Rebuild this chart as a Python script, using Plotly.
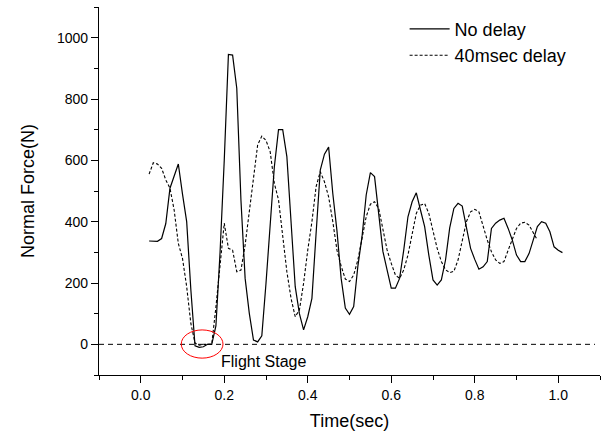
import plotly.graph_objects as go

time_no_delay = [0.02, 0.03, 0.04, 0.05, 0.06, 0.07, 0.08, 0.09, 0.10, 0.11,
                 0.12, 0.13, 0.14, 0.15, 0.16, 0.17, 0.18, 0.19, 0.20, 0.21,
                 0.22, 0.23, 0.24, 0.25, 0.26, 0.27, 0.28, 0.29, 0.30, 0.31,
                 0.32, 0.33, 0.34, 0.35, 0.36, 0.37, 0.38, 0.39, 0.40, 0.41,
                 0.42, 0.43, 0.44, 0.45, 0.46, 0.47, 0.48, 0.49, 0.50, 0.51,
                 0.52, 0.53, 0.54, 0.55, 0.56, 0.57, 0.58, 0.59, 0.60, 0.61,
                 0.62, 0.63, 0.64, 0.65, 0.66, 0.67, 0.68, 0.69, 0.70, 0.71,
                 0.72, 0.73, 0.74, 0.75, 0.76, 0.77, 0.78, 0.79, 0.80, 0.81,
                 0.82, 0.83, 0.84, 0.85, 0.86, 0.87, 0.88, 0.89, 0.90, 0.91,
                 0.92, 0.93, 0.94, 0.95, 0.96, 0.97, 0.98, 0.99, 1.00, 1.01]
force_no_delay = [337, 336, 336, 345, 394, 509, 550, 588, 490, 400,
                  178, -5, -10, -8, 0, 0, 60, 300, 600, 945,
                  943, 835, 470, 215, 101, 14, 8, 28, 199, 395,
                  579, 700, 700, 612, 387, 188, 100, 47, 90, 150,
                  362, 568, 620, 643, 492, 370, 215, 118, 98, 123,
                  254, 351, 487, 560, 547, 416, 303, 243, 183, 183,
                  215, 308, 416, 465, 494, 438, 384, 291, 210, 193,
                  210, 275, 380, 443, 460, 451, 384, 313, 277, 245,
                  253, 270, 378, 395, 405, 411, 378, 340, 291, 270,
                  270, 296, 340, 384, 400, 395, 367, 318, 307, 299]

time_delay = [0.02, 0.03, 0.04, 0.05, 0.06, 0.07, 0.08, 0.09, 0.10, 0.11,
              0.12, 0.13, 0.14, 0.15, 0.16, 0.17, 0.18, 0.19, 0.20, 0.21,
              0.22, 0.23, 0.24, 0.25, 0.26, 0.27, 0.28, 0.29, 0.30, 0.31,
              0.32, 0.33, 0.34, 0.35, 0.36, 0.37, 0.38, 0.39, 0.40, 0.41,
              0.42, 0.43, 0.44, 0.45, 0.46, 0.47, 0.48, 0.49, 0.50, 0.51,
              0.52, 0.53, 0.54, 0.55, 0.56, 0.57, 0.58, 0.59, 0.60, 0.61,
              0.62, 0.63, 0.64, 0.65, 0.66, 0.67, 0.68, 0.69, 0.70, 0.71,
              0.72, 0.73, 0.74, 0.75, 0.76, 0.77, 0.78, 0.79, 0.80, 0.81,
              0.82, 0.83, 0.84, 0.85, 0.86, 0.87, 0.88, 0.89, 0.90, 0.91,
              0.92, 0.93, 0.94, 0.95]
force_delay = [555, 592, 588, 574, 536, 509, 438, 329, 280, 188,
               68, 4, -3, 0, 0, 0, 121, 270, 395, 313,
               307, 237, 242, 324, 438, 547, 650, 679, 665, 628,
               525, 471, 362, 237, 150, 90, 112, 199, 307, 400,
               514, 563, 530, 481, 400, 307, 255, 213, 205, 226,
               275, 340, 416, 457, 465, 443, 373, 308, 264, 226,
               215, 243, 291, 356, 427, 454, 459, 427, 373, 313,
               270, 243, 234, 238, 275, 340, 400, 432, 440, 432,
               384, 340, 302, 275, 264, 270, 307, 340, 378, 395,
               398, 389, 362, 340]

x_ticks = [0.0, 0.2, 0.4, 0.6, 0.8, 1.0]
x_tick_labels = ["0.0", "0.2", "0.4", "0.6", "0.8", "1.0"]
y_ticks = [0, 200, 400, 600, 800, 1000]
y_tick_labels = ["0", "200", "400", "600", "800", "1000"]

# flight stage marker (data coordinates)
flight_x = [0.097, 0.197]
flight_y = [-45, 47]
flight_label_x = 0.188
flight_label_y = -55

FONT = "Liberation Sans, Arial, sans-serif"

fig = go.Figure()
fig.add_trace(go.Scatter(x=time_no_delay, y=force_no_delay, mode="lines",
                         name="No delay",
                         line=dict(color="black", width=1.2)))
fig.add_trace(go.Scatter(x=time_delay, y=force_delay, mode="lines",
                         name="40msec delay",
                         line=dict(color="black", width=1.1, dash="3px,2px")))

fig.add_shape(type="line", xref="paper", yref="y", x0=0, x1=0.99, y0=0, y1=0,
              line=dict(color="black", width=1, dash="5px,4px"))
fig.add_shape(type="circle", xref="x", yref="y",
              x0=flight_x[0], x1=flight_x[1], y0=flight_y[0], y1=flight_y[1],
              line=dict(color="red", width=1))
fig.add_annotation(x=flight_label_x, y=flight_label_y, text="Flight Stage",
                   showarrow=False, xanchor="left", yanchor="middle",
                   font=dict(family=FONT, size=16, color="black"))

axis_common = dict(showline=True, linecolor="black", linewidth=1.2,
                   ticks="outside", ticklen=7, tickwidth=1.2, tickcolor="black",
                   showgrid=False, zeroline=False, mirror=False,
                   tickfont=dict(family=FONT, size=14, color="black"))

fig.update_xaxes(range=[-0.1, 1.1], tickvals=x_ticks, ticktext=x_tick_labels,
                 minor=dict(ticks="outside", ticklen=4, tickwidth=1.2,
                            tickcolor="black", dtick=0.1, tick0=-0.1),
                 title=dict(text="Time(sec)", font=dict(family=FONT, size=18, color="black"),
                            standoff=12),
                 **axis_common)
fig.update_yaxes(range=[-100, 1100], tickvals=y_ticks, ticktext=y_tick_labels,
                 minor=dict(ticks="outside", ticklen=4, tickwidth=1.2,
                            tickcolor="black", dtick=100, tick0=-100),
                 title=dict(text="Normal Force(N)", font=dict(family=FONT, size=18, color="black"),
                            standoff=17),
                 **axis_common)

fig.update_layout(
    width=605, height=437,
    margin=dict(l=99, r=5, t=7, b=62),
    plot_bgcolor="white", paper_bgcolor="white",
    font=dict(family=FONT, size=14, color="black"),
    legend=dict(x=0.61, y=0.99, xanchor="left", yanchor="top",
                bgcolor="rgba(0,0,0,0)", borderwidth=0,
                font=dict(family=FONT, size=18, color="black"),
                tracegroupgap=0, itemwidth=40),
)

fig.write_html("out.html",
               config={"displayModeBar": False},
               post_script="document.body.style.margin='0px';document.body.style.overflow='hidden';")
